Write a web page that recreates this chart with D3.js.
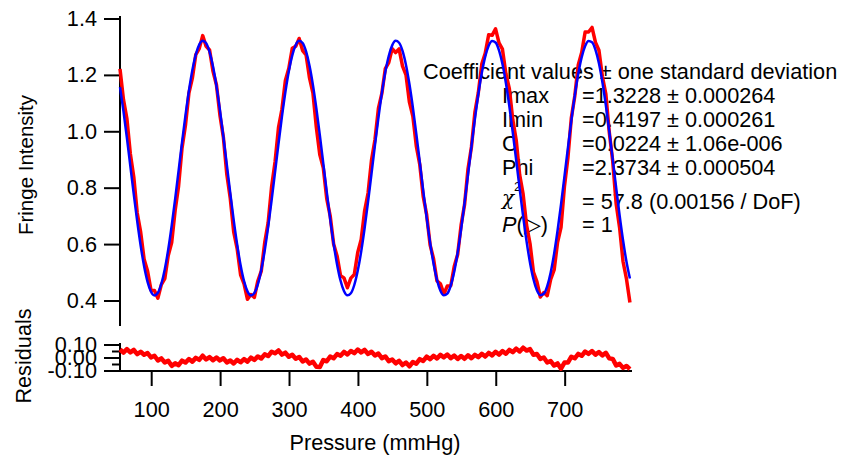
<!DOCTYPE html>
<html>
<head>
<meta charset="utf-8">
<script src="https://cdnjs.cloudflare.com/ajax/libs/d3/7.8.5/d3.min.js"></script>
<style>
  body { margin: 0; background: #fff; }
  svg { display: block; font-family: "Liberation Sans", Arial, sans-serif; }
</style>
</head>
<body>
<div id="chart"></div>
<script>
// pressure grid of the samples (mmHg), every 5 mmHg from 54 to 794
const pressure = d3.range(54, 795, 5);

// measured fringe intensity (red trace)
const measured = [
  1.223, 1.115, 1.047, 0.922, 0.840, 0.712, 0.644, 0.548, 0.506, 0.438,
  0.437, 0.410, 0.458, 0.479, 0.561, 0.607, 0.721, 0.807, 0.942, 1.023,
  1.137, 1.190, 1.274, 1.295, 1.341, 1.303, 1.290, 1.214, 1.166, 1.059,
  0.981, 0.849, 0.764, 0.645, 0.586, 0.493, 0.461, 0.406, 0.423, 0.413,
  0.471, 0.506, 0.607, 0.678, 0.805, 0.893, 1.015, 1.080, 1.182, 1.225,
  1.296, 1.303, 1.331, 1.288, 1.273, 1.191, 1.137, 1.014, 0.918, 0.872,
  0.763, 0.702, 0.602, 0.560, 0.490, 0.482, 0.447, 0.481, 0.494, 0.572,
  0.618, 0.720, 0.783, 0.900, 0.972, 1.083, 1.136, 1.224, 1.245, 1.295,
  1.281, 1.294, 1.233, 1.202, 1.105, 1.055, 0.949, 0.884, 0.771, 0.706,
  0.599, 0.550, 0.471, 0.461, 0.425, 0.453, 0.454, 0.522, 0.565, 0.669,
  0.741, 0.868, 0.946, 1.069, 1.139, 1.240, 1.278, 1.344, 1.342, 1.365,
  1.315, 1.293, 1.206, 1.153, 1.043, 0.970, 0.847, 0.779, 0.669, 0.604,
  0.502, 0.469, 0.414, 0.430, 0.419, 0.477, 0.510, 0.608, 0.661, 0.807,
  0.908, 1.050, 1.127, 1.237, 1.281, 1.354, 1.354, 1.370, 1.317, 1.289,
  1.197, 1.135, 0.999, 0.896, 0.745, 0.660, 0.540, 0.478, 0.395
];

// fitted curve (blue trace)
const fitted = [
  1.1582, 1.0734, 0.9786, 0.8785, 0.7780, 0.6822, 0.5959, 0.5233, 0.4680, 0.4329,
  0.4198, 0.4292, 0.4607, 0.5126, 0.5826, 0.6669, 0.7615, 0.8615, 0.9621, 1.0581,
  1.1449, 1.2179, 1.2734, 1.3090, 1.3227, 1.3139, 1.2829, 1.2314, 1.1619, 1.0778,
  0.9834, 0.8834, 0.7829, 0.6867, 0.6004, 0.5264, 0.4702, 0.4342, 0.4198, 0.4282,
  0.4586, 0.5097, 0.5788, 0.6627, 0.7568, 0.8567, 0.9573, 1.0537, 1.1410, 1.2148,
  1.2712, 1.3078, 1.3226, 1.3149, 1.2849, 1.2343, 1.1656, 1.0821, 0.9882, 0.8883,
  0.7877, 0.6912, 0.6037, 0.5295, 0.4725, 0.4354, 0.4200, 0.4273, 0.4567, 0.5068,
  0.5751, 0.6584, 0.7521, 0.8518, 0.9525, 1.0492, 1.1371, 1.2116, 1.2689, 1.3065,
  1.3224, 1.3158, 1.2869, 1.2372, 1.1693, 1.0864, 0.9929, 0.8932, 0.7925, 0.6956,
  0.6077, 0.5328, 0.4748, 0.4367, 0.4203, 0.4264, 0.4548, 0.5039, 0.5715, 0.6541,
  0.7474, 0.8470, 0.9477, 1.0447, 1.1330, 1.2083, 1.2666, 1.3052, 1.3222, 1.3166,
  1.2888, 1.2401, 1.1730, 1.0907, 0.9976, 0.8981, 0.7973, 0.7001, 0.6116, 0.5359,
  0.4772, 0.4380, 0.4206, 0.4256, 0.4529, 0.5011, 0.5679, 0.6498, 0.7426, 0.8421,
  0.9429, 1.0402, 1.1290, 1.2050, 1.2642, 1.3038, 1.3219, 1.3174, 1.2906, 1.2429,
  1.1766, 1.0950, 1.0023, 0.9030, 0.8021, 0.7047, 0.6156, 0.5392, 0.4796
];

// residuals (lower panel)
const residuals = [
  0.065, 0.042, 0.068, 0.043, 0.062, 0.030, 0.048, 0.025, 0.038, 0.005,
  0.017, -0.019, -0.003, -0.034, -0.022, -0.060, -0.041, -0.055, -0.020, -0.035,
  -0.008, -0.028, 0.001, -0.014, 0.018, -0.011, 0.007, -0.017, 0.004, -0.019,
  -0.002, -0.034, -0.019, -0.042, -0.014, -0.033, -0.009, -0.028, 0.003, -0.015,
  0.012, -0.004, 0.028, 0.015, 0.048, 0.036, 0.058, 0.026, 0.041, 0.010,
  0.025, -0.005, 0.008, -0.027, -0.012, -0.043, -0.029, -0.068, -0.070, -0.016,
  -0.025, 0.011, -0.002, 0.030, 0.017, 0.047, 0.027, 0.054, 0.037, 0.065,
  0.043, 0.062, 0.031, 0.048, 0.019, 0.034, -0.001, 0.012, -0.024, -0.012,
  -0.041, -0.022, -0.054, -0.035, -0.064, -0.031, -0.044, -0.009, -0.022, 0.010,
  -0.009, 0.017, -0.004, 0.024, 0.005, 0.027, -0.001, 0.018, -0.007, 0.015,
  -0.006, 0.021, -0.002, 0.024, 0.006, 0.032, 0.011, 0.039, 0.020, 0.048,
  0.026, 0.053, 0.033, 0.062, 0.045, 0.072, 0.050, 0.079, 0.057, 0.068,
  0.025, 0.031, -0.007, 0.004, -0.034, -0.024, -0.058, -0.042, -0.082, -0.035,
  -0.035, 0.010, -0.002, 0.032, 0.017, 0.050, 0.032, 0.053, 0.026, 0.046,
  0.020, 0.040, -0.003, -0.007, -0.057, -0.045, -0.076, -0.061, -0.085
];

// axis ticks
const xTicks = [100, 200, 300, 400, 500, 600, 700];
const yTicks = [0.4, 0.6, 0.8, 1.0, 1.2, 1.4];
const resTicks = [-0.1, 0, 0.1];
const resMinorTicks = [-0.05, 0.05];

// fit report text
const coefNames = ["Imax", "Imin", "C", "Phi"];
const coefValues = ["=1.3228 ± 0.000264", "=0.4197 ± 0.000261", "=0.0224 ± 1.06e-006", "=2.3734 ± 0.000504"];

let w = 844;
let h = 458;
let fs = "21.7px";

const svg = d3.select("#chart").
append("svg").
attr("width", w).
attr("height", h);

svg.append("rect").attr("width", w).attr("height", h).attr("fill", "#fff");

//scales
const xScale = d3.scaleLinear().domain([54, 797]).range([120, 632]);
const yScale = d3.scaleLinear().domain([0.3113, 1.4106]).range([326, 16]);
const resScale = d3.scaleLinear().domain([-0.1, 0.1154]).range([371, 343]);

function styleAxis(g) {
  g.select(".domain").attr("stroke", "#000").attr("stroke-width", 2);
  g.selectAll(".tick line").attr("stroke", "#000").attr("stroke-width", 2);
  g.selectAll(".tick text").attr("fill", "#000").style("font-size", fs).
  style("font-family", "'Liberation Sans', Arial, sans-serif");
}

//main y axis
svg.append("g").
attr("transform", "translate(120,0)").
call(d3.axisLeft(yScale).tickValues(yTicks).tickFormat(d => d.toFixed(1)).
tickSize(16).tickSizeOuter(0).tickPadding(7).offset(0)).
call(styleAxis);

//residual y axis (labels overlap like in the original)
svg.append("g").
attr("transform", "translate(120,0)").
call(d3.axisLeft(resScale).tickValues(resTicks).tickFormat(d => d.toFixed(2)).
tickSize(16).tickSizeOuter(0).tickPadding(7).offset(0)).
call(styleAxis);

svg.append("g").
attr("transform", "translate(120,0)").
call(d3.axisLeft(resScale).tickValues(resMinorTicks).tickFormat("").
tickSize(8).tickSizeOuter(0).offset(0)).
call(styleAxis).
call(g => g.select(".domain").remove());

//x axis under the residuals
svg.append("g").
attr("transform", "translate(0,371)").
call(d3.axisBottom(xScale).tickValues(xTicks).tickFormat(d3.format("d")).
tickSize(15).tickSizeOuter(0).tickPadding(16).offset(0)).
call(styleAxis);

//axis titles
svg.append("text").
attr("transform", "translate(33,165) rotate(-90)").
attr("text-anchor", "middle").
style("font-size", "20.5px").
text("Fringe Intensity");

svg.append("text").
attr("transform", "translate(31,356) rotate(-90)").
attr("text-anchor", "middle").
style("font-size", fs).
text("Residuals");

svg.append("text").
attr("x", 375).
attr("y", 450).
attr("text-anchor", "middle").
style("font-size", fs).
text("Pressure (mmHg)");

//fit report
let report = svg.append("g").style("font-size", fs);

report.append("text").
attr("x", 423).
attr("y", 79).
text("Coefficient values ± one standard deviation");

coefNames.forEach((name, i) => {
  report.append("text").attr("x", 502).attr("y", 103 + i * 24).text(name);
  report.append("text").attr("x", 582).attr("y", 103 + i * 24).text(coefValues[i]);
});

report.append("text").attr("x", 502).attr("y", 205).style("font-family", "'DejaVu Serif', serif").
style("font-style", "italic").style("font-size", "20px").text("χ");
report.append("text").attr("x", 514).attr("y", 191).style("font-size", "13px").text("2");
report.append("text").attr("x", 582).attr("y", 209).text("= 57.8 (0.00156 / DoF)");

let pText = report.append("text").attr("x", 502).attr("y", 232);
pText.append("tspan").style("font-style", "italic").text("P");
pText.append("tspan").text("(▷)");
report.append("text").attr("x", 582).attr("y", 232).text("= 1");

//traces
const mainLine = d3.line().
x((d, i) => xScale(pressure[i])).
y(d => yScale(d));

svg.append("path").
datum(measured).
attr("d", mainLine).
attr("fill", "none").
attr("stroke", "#ff0000").
attr("stroke-width", 3.5).
attr("stroke-linejoin", "round");

svg.append("path").
datum(fitted).
attr("d", mainLine.curve(d3.curveMonotoneX)).
attr("fill", "none").
attr("stroke", "#0000ff").
attr("stroke-width", 2.5);

const resLine = d3.line().
x((d, i) => xScale(pressure[i])).
y(d => resScale(d));

svg.append("path").
datum(residuals).
attr("d", resLine).
attr("fill", "none").
attr("stroke", "#ff0000").
attr("stroke-width", 4.5).
attr("stroke-linejoin", "round");
</script>
</body>
</html>
